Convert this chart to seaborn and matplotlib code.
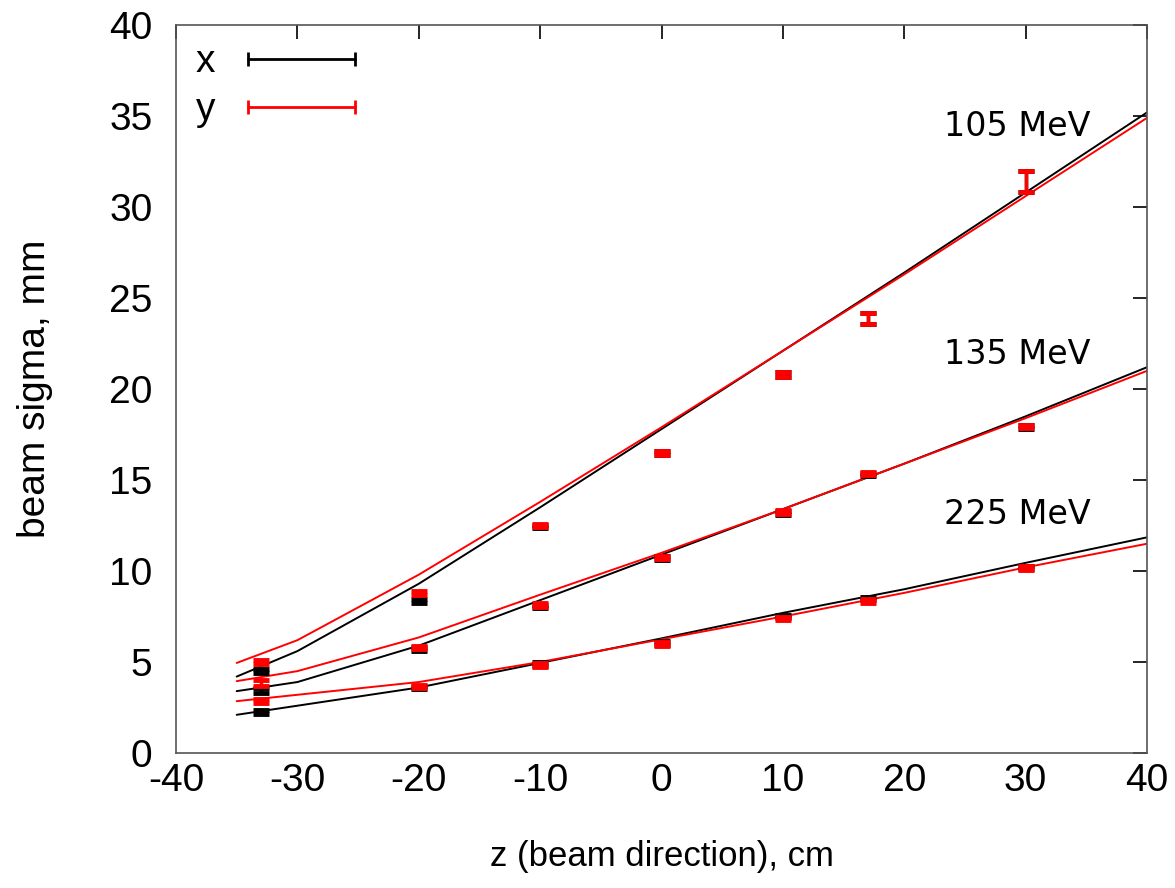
import numpy as np
import pandas as pd
import matplotlib
matplotlib.use("Agg")
import matplotlib.pyplot as plt
import seaborn as sns
from matplotlib.lines import Line2D

# model curves, sampled along z (cm)
z_line = [-35, -30, -20, -10, 0, 10, 20, 30, 40]
fit_105_x = [4.2, 5.6, 9.3, 13.5, 17.8, 22.1, 26.4, 30.8, 35.2]
fit_105_y = [4.95, 6.2, 9.8, 13.8, 17.9, 22.1, 26.3, 30.6, 34.9]
fit_135_x = [3.4, 3.9, 5.9, 8.4, 10.9, 13.4, 15.9, 18.5, 21.2]
fit_135_y = [3.95, 4.5, 6.35, 8.7, 11.0, 13.4, 15.9, 18.4, 21.0]
fit_225_x = [2.1, 2.6, 3.6, 4.95, 6.3, 7.7, 9.0, 10.45, 11.85]
fit_225_y = [2.85, 3.2, 3.9, 5.0, 6.25, 7.5, 8.8, 10.2, 11.5]

# measured beam sigma
z_meas = [-33, -20, -10, 0, 10, 17, 30]
meas_105_x = [4.5, 8.35, 12.45, 16.5, 20.8, 23.9, 31.4]
meas_105_y = [5.0, 8.8, 12.5, 16.5, 20.8, 23.9, 31.4]
err_105 = [0.1, 0.1, 0.1, 0.1, 0.12, 0.3, 0.6]
meas_135_x = [3.45, 5.7, 8.05, 10.7, 13.2, 15.3, 17.9]
meas_135_y = [3.85, 5.8, 8.15, 10.75, 13.25, 15.35, 17.95]
err_135 = [0.15, 0.1, 0.1, 0.1, 0.1, 0.1, 0.1]
meas_225_x = [2.25, 3.6, 4.9, 6.05, 7.5, 8.5, 10.2]
meas_225_y = [2.85, 3.65, 4.85, 6.0, 7.4, 8.35, 10.15]
err_225 = [0.1, 0.1, 0.1, 0.1, 0.1, 0.1, 0.1]

energy_labels = ["105 MeV", "135 MeV", "225 MeV"]
label_pos = [(23.3, 34.4), (23.3, 21.9), (23.3, 13.1)]

sns.set_style("white")
plt.rcParams['font.family'] = ['Liberation Sans', 'DejaVu Sans']
plt.rcParams['axes.unicode_minus'] = False
plt.rcParams['text.color'] = 'black'
plt.rcParams['axes.labelcolor'] = 'black'
plt.rcParams['xtick.color'] = 'black'
plt.rcParams['ytick.color'] = 'black'

fig, ax = plt.subplots(figsize=(11.75, 8.88), dpi=100)
fig.subplots_adjust(left=0.1498, right=0.9762, top=0.9718, bottom=0.152)

fits = [(fit_105_x, fit_105_y), (fit_135_x, fit_135_y), (fit_225_x, fit_225_y)]
meas = [(meas_105_x, meas_105_y, err_105), (meas_135_x, meas_135_y, err_135),
        (meas_225_x, meas_225_y, err_225)]

for (fx, fy) in fits:
    sns.lineplot(x=z_line, y=fx, color='black', lw=1.4, ax=ax)
    sns.lineplot(x=z_line, y=fy, color='red', lw=1.4, ax=ax)

for (mx, my, me) in meas:
    ax.errorbar(z_meas, mx, yerr=me, fmt='none', ecolor='black', elinewidth=2.5,
                capsize=6, capthick=3.5, zorder=3)
    ax.errorbar(z_meas, my, yerr=me, fmt='none', ecolor='red', elinewidth=2.5,
                capsize=6, capthick=3.5, zorder=4)

for txt, (tx, ty) in zip(energy_labels, label_pos):
    ax.text(tx, ty, txt, fontsize=24, family='DejaVu Sans', ha='left', va='center')

ax.set_xlim(-40, 40)
ax.set_ylim(0, 40)
ax.set_xticks(range(-40, 41, 10))
ax.set_yticks(range(0, 41, 5))
ax.tick_params(direction='in', length=10, width=1.2, top=True, right=True,
               labelsize=28)
ax.tick_params(axis='x', pad=7)
ax.tick_params(axis='y', pad=17)
for sp in ax.spines.values():
    sp.set_color('#555555')
    sp.set_linewidth(1.2)

ax.set_xlabel('z (beam direction), cm', fontsize=25, labelpad=30)
ax.set_ylabel('beam sigma, mm', fontsize=28, labelpad=40)

handles = [Line2D([], [], color='black', lw=2, marker='|', markersize=10, mew=2),
           Line2D([], [], color='red', lw=2, marker='|', markersize=10, mew=2)]
ax.legend(handles, ['x', 'y'], loc='upper left', frameon=False, markerfirst=False,
          numpoints=2, fontsize=28, handlelength=3.35, handletextpad=0.55,
          labelspacing=0.3, borderaxespad=0.2, borderpad=0.3)

fig.savefig('out.png', dpi=100)
